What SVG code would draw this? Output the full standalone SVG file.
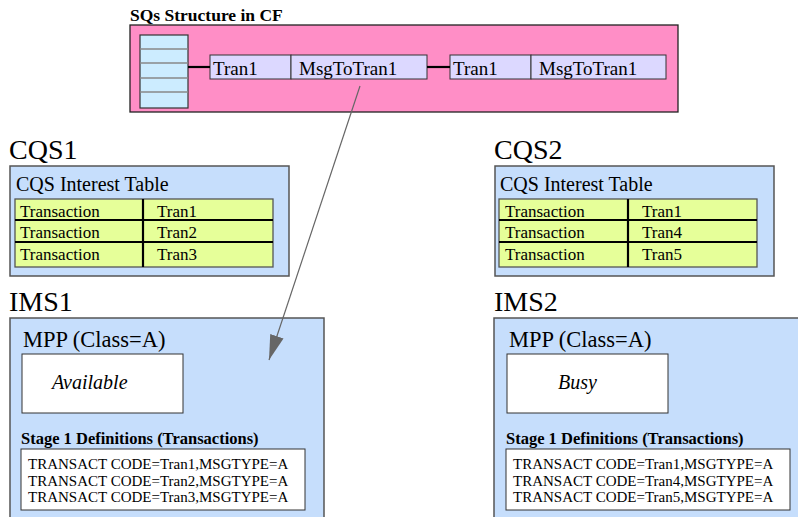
<svg xmlns="http://www.w3.org/2000/svg" width="798" height="517" viewBox="0 0 798 517" font-family="'Liberation Serif', 'Times New Roman', 'DejaVu Serif', serif">
<defs>
<style>
text{font-family:'Liberation Serif','Times New Roman','DejaVu Serif',serif;fill:#000}
.big{font-size:28px}
.med{font-size:22.5px}
.hd{font-size:20px}
.tr{font-size:19px}
.cell{font-size:17px}
.st{font-size:16.5px;font-weight:bold}
.def{font-size:15px}
.panel{fill:#c6defc;stroke:#555;stroke-width:1.5}
.white{fill:#fff;stroke:#333;stroke-width:1}
.grn{fill:#e6ff99;stroke:#555;stroke-width:1.3}
.tl{stroke:#000;stroke-width:2.2}
.tb{fill:#dcd8ff;stroke:#333;stroke-width:1}
</style>
<marker id="ah" viewBox="0 0 25 14" refX="25" refY="7" markerWidth="25" markerHeight="14" markerUnits="userSpaceOnUse" orient="auto"><path d="M0,0 L25,7 L0,14 z" fill="#666"/></marker>
</defs>
<g id="sqs">
<text font-size="17.5" font-weight="bold" x="130" y="21">SQs Structure in CF</text>
<rect x="130" y="25" width="548" height="87" fill="#ff8ec6" stroke="#222" stroke-width="1.3"/>
<rect x="140" y="35" width="48" height="73" fill="#ccecff" stroke="#333" stroke-width="1.2"/>
<g stroke="#888" stroke-width="1.5"><line x1="140" y1="49" x2="188" y2="49"/><line x1="140" y1="63" x2="188" y2="63"/><line x1="140" y1="78" x2="188" y2="78"/><line x1="140" y1="92" x2="188" y2="92"/></g>
<rect class="tb" x="210" y="55" width="81" height="24"/>
<rect class="tb" x="291" y="55" width="136" height="24"/>
<rect class="tb" x="450" y="55" width="81" height="24"/>
<rect class="tb" x="531" y="55" width="135" height="24"/>
<text class="tr" x="213" y="75">Tran1</text>
<text class="tr" x="299" y="75">MsgToTran1</text>
<text class="tr" x="453" y="75">Tran1</text>
<text class="tr" x="539" y="75">MsgToTran1</text>
</g>
<g id="cqs1">
<text class="big" x="9" y="159">CQS1</text>
<rect class="panel" x="10" y="166" width="279" height="110"/>
<text class="hd" x="16" y="191">CQS Interest Table</text>
<rect class="grn" x="15" y="199" width="258" height="68"/>
<line class="tl" x1="15" y1="220" x2="273" y2="220"/>
<line class="tl" x1="15" y1="242" x2="273" y2="242"/>
<line class="tl" x1="143" y1="199" x2="143" y2="267"/>
<text class="cell" x="20" y="217">Transaction</text>
<text class="cell" x="157" y="217">Tran1</text>
<text class="cell" x="20" y="238">Transaction</text>
<text class="cell" x="157" y="238">Tran2</text>
<text class="cell" x="20" y="260">Transaction</text>
<text class="cell" x="157" y="260">Tran3</text>
</g>
<g id="cqs2">
<text class="big" x="494" y="159">CQS2</text>
<rect class="panel" x="495" y="166" width="279" height="110"/>
<text class="hd" x="500" y="191">CQS Interest Table</text>
<rect class="grn" x="499" y="199" width="258" height="68"/>
<line class="tl" x1="499" y1="220" x2="757" y2="220"/>
<line class="tl" x1="499" y1="242" x2="757" y2="242"/>
<line class="tl" x1="628" y1="199" x2="628" y2="267"/>
<text class="cell" x="505" y="217">Transaction</text>
<text class="cell" x="642" y="217">Tran1</text>
<text class="cell" x="505" y="238">Transaction</text>
<text class="cell" x="642" y="238">Tran4</text>
<text class="cell" x="505" y="260">Transaction</text>
<text class="cell" x="642" y="260">Tran5</text>
</g>
<g id="ims1">
<text class="big" x="9" y="311">IMS1</text>
<rect class="panel" x="10" y="318" width="314" height="205"/>
<text class="med" x="23" y="347">MPP (Class=A)</text>
<rect class="white" x="22" y="354" width="161" height="59"/>
<text class="hd" font-style="italic" x="52" y="389">Available</text>
<text class="st" x="21" y="444">Stage 1 Definitions (Transactions)</text>
<rect class="white" x="21" y="449" width="284" height="61"/>
<text class="def" x="28" y="469">TRANSACT CODE=Tran1,MSGTYPE=A</text>
<text class="def" x="28" y="486">TRANSACT CODE=Tran2,MSGTYPE=A</text>
<text class="def" x="28" y="502">TRANSACT CODE=Tran3,MSGTYPE=A</text>
</g>
<g id="ims2">
<text class="big" x="494" y="311">IMS2</text>
<rect class="panel" x="494" y="318" width="310" height="205"/>
<text class="med" x="509" y="347">MPP (Class=A)</text>
<rect class="white" x="507" y="354" width="161" height="59"/>
<text class="hd" font-style="italic" x="558" y="389">Busy</text>
<text class="st" x="506" y="444">Stage 1 Definitions (Transactions)</text>
<rect class="white" x="506" y="449" width="284" height="61"/>
<text class="def" x="513" y="469">TRANSACT CODE=Tran1,MSGTYPE=A</text>
<text class="def" x="513" y="486">TRANSACT CODE=Tran4,MSGTYPE=A</text>
<text class="def" x="513" y="502">TRANSACT CODE=Tran5,MSGTYPE=A</text>
</g>
<g id="connectors">
<line class="tl" x1="188" y1="67" x2="210" y2="67"/>
<line class="tl" x1="427" y1="67" x2="450" y2="67"/>
<line x1="360" y1="86" x2="269" y2="360" stroke="#666" stroke-width="1.2" marker-end="url(#ah)"/>
</g>
</svg>
